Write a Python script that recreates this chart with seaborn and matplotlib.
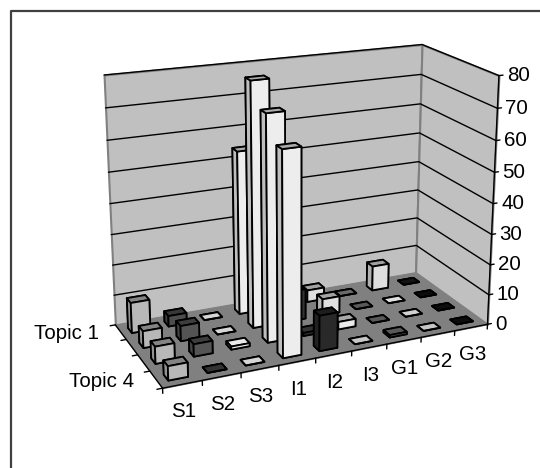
import numpy as np
import seaborn as sns
import matplotlib
matplotlib.use('Agg')
import matplotlib.pyplot as plt
from mpl_toolkits.mplot3d.art3d import Poly3DCollection

sns.set_theme(style='white')
plt.rcParams['font.family'] = ['Liberation Sans', 'DejaVu Sans']

topics = ['Topic 1', 'Topic 2', 'Topic 3', 'Topic 4']
methods = ['S1', 'S2', 'S3', 'I1', 'I2', 'I3', 'G1', 'G2', 'G3']
z_ticks = [0, 10, 20, 30, 40, 50, 60, 70, 80]

# rows: topics, columns: methods
values_t1 = [10, 3.5, 0, 54, 0, 4, 0, 8.5, 0]
values_t2 = [5.5, 5, 0, 79, 10, 5.5, 0, 0, 0]
values_t3 = [5.5, 4, 1, 72, 1, 2.5, 0, 0, 0]
values_t4 = [4.5, 0, 0, 64.5, 11.5, 0, 0.8, 0, 0]

# grey level of the bar's front face
greys_t1 = [0.72, 0.30, 0.84, 0.93, 0.15, 0.88, 0.42, 0.87, 0.08]
greys_t2 = [0.72, 0.33, 0.84, 0.93, 0.20, 0.88, 0.35, 0.88, 0.05]
greys_t3 = [0.72, 0.33, 0.92, 0.93, 0.20, 0.92, 0.35, 0.82, 0.05]
greys_t4 = [0.72, 0.25, 0.84, 0.93, 0.16, 0.78, 0.35, 0.78, 0.05]

values = np.array([values_t1, values_t2, values_t3, values_t4], dtype=float)
greys = np.array([greys_t1, greys_t2, greys_t3, greys_t4])

W, H = 540, 468
n_y, n_x = values.shape
z_max = z_ticks[-1]
font_size = 14.8

fig = plt.figure(figsize=(W / 100, H / 100), dpi=100)
# square 3d panel that covers the whole figure, so nothing gets clipped
ax = fig.add_axes([0, -(W - H) / 2 / H, 1, W / H], projection='3d', computed_zorder=False)
ax.set_axis_off()
ax.apply_aspect()

# corners of the chart box in the picture, the camera is fitted to these
world = np.array([
    [0, n_y, 0], [0, 0, 0], [n_x, 0, 0], [n_x, n_y, 0],
    [0, 0, z_max], [n_x, 0, z_max], [n_x, n_y, z_max],
], dtype=float)
pixels = np.array([
    [163, 388], [115, 325], [416, 272], [487, 325],
    [104, 75], [422, 45], [499, 75],
], dtype=float)
display = np.column_stack([pixels[:, 0], H - pixels[:, 1]])
uv = ax.transData.inverted().transform(display)

rows = []
for (x, y, z), (u, v) in zip(world, uv):
    rows.append([x, y, z, 1, 0, 0, 0, 0, -u * x, -u * y, -u * z, -u])
    rows.append([0, 0, 0, 0, x, y, z, 1, -v * x, -v * y, -v * z, -v])
P = np.linalg.svd(np.array(rows))[2][-1].reshape(3, 4)
if (P[2] @ [n_x / 2, n_y / 2, 0, 1]) < 0:
    P = -P
M = np.vstack([P[0], P[1], [0, 0, 0, -1], P[2]])
ax.get_proj = lambda: M


def depth(x, y, z=0):
    return P[2] @ [x, y, z, 1]


def label(x, y, z, text, dx, dy, ha):
    # text is placed in 2d at the projected point, dx/dy in pixels (dy down)
    u, v, w = P @ [x, y, z, 1]
    ax.annotate(text, xy=(u / w, v / w), xytext=(dx, -dy), textcoords='offset pixels',
                fontsize=font_size, color='black', ha=ha, va='center', annotation_clip=False)


def panel(verts, color, edge, lw=0.8, zorder=1):
    ax.add_collection3d(Poly3DCollection([verts], facecolors=color, edgecolors=edge,
                                         linewidths=lw, zorder=zorder))


# walls and floor
panel([(0, 0, 0), (n_x, 0, 0), (n_x, 0, z_max), (0, 0, z_max)], '#c0c0c0', '#808080', 1.5)
panel([(n_x, 0, 0), (n_x, n_y, 0), (n_x, n_y, z_max), (n_x, 0, z_max)], '#c0c0c0', '#808080', 1.5)
panel([(0, 0, 0), (n_x, 0, 0), (n_x, n_y, 0), (0, n_y, 0)], '#808080', '#808080', 0.8, zorder=1.2)

# gridlines on the walls
for t in z_ticks[1:]:
    ax.plot([0, n_x, n_x], [0, 0, n_y], [t, t, t], color='black', lw=1.0, zorder=1.1)

# axis lines and ticks
ax.plot([n_x, n_x], [n_y, n_y], [0, z_max], color='black', lw=1.0, zorder=1.3)
ax.plot([0, n_x], [n_y, n_y], [0, 0], color='black', lw=1.0, zorder=1.3)
ax.plot([0, 0], [0, n_y], [0, 0], color='black', lw=1.0, zorder=1.3)
for t in z_ticks:
    ax.plot([n_x, n_x + 0.12], [n_y, n_y], [t, t], color='black', lw=1.0, zorder=1.3)
    label(n_x, n_y, t, str(t), 8, 0, 'left')
for i in range(n_x + 1):
    ax.plot([i, i], [n_y, n_y], [0, -1.6], color='black', lw=1.0, zorder=1.3)
for j in range(n_y + 1):
    ax.plot([0, -0.14], [j, j], [0, 0], color='black', lw=1.0, zorder=1.3)
for i, name in enumerate(methods):
    label(i + 0.5, n_y, 0, name, 1, 27.5, 'center')
for j, name in enumerate(topics):
    if j in (0, 3):
        label(0, j + 0.5, 0, name, -22, 1.5, 'right')

# bars, painted from the back to the front
cells = [(j, i) for j in range(n_y) for i in range(n_x)]
cells.sort(key=lambda c: -depth(c[1] + 0.5, c[0] + 0.5))
bar_w, bar_d = 0.5, 0.35
for order, (j, i) in enumerate(cells):
    g = greys[j, i]
    front = (g, g, g)
    side = (g * 0.8, g * 0.8, g * 0.8)
    top = front if values[j, i] < 1.5 else (g * 0.72, g * 0.72, g * 0.72)
    # faces: bottom, top, back, front, left, right
    face_colors = [side, top, side, front, side, side]
    ax.bar3d(i + 0.5 - bar_w / 2, j + 0.5 - bar_d / 2, 0, bar_w, bar_d, values[j, i], color=face_colors,
             shade=False, edgecolor='black', linewidth=1.3, zorder=2 + order * 0.01)

# chart area border, only top and left fall inside the picture
fig.add_artist(plt.Line2D([10.5 / W, 10.5 / W, 1], [0, 1 - 11 / H, 1 - 11 / H], color='#404040', lw=1.6))

fig.savefig('out.png', dpi=100)
